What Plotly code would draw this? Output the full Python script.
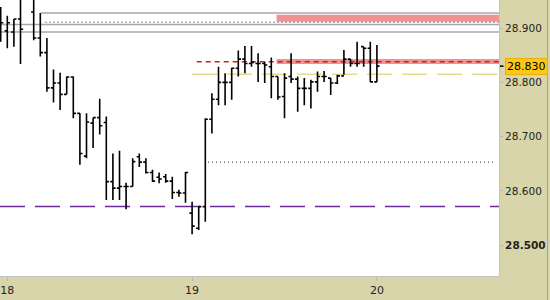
import plotly.graph_objects as go

# ---- data ----
bar_pos = [-1, 0, 1, 2, 4, 5, 6, 7, 8, 9, 10, 11, 12, 13, 14, 15, 16, 17, 18, 19,
           20, 21, 22, 23, 24, 25, 26, 27, 28, 29, 30, 31, 32, 33, 34, 35, 36, 37, 38, 39,
           40, 41, 42, 43, 44, 45, 46, 47, 48, 49, 50, 51, 52, 53, 54, 55, 56]
opens = [28.905, 28.895, 28.893, 28.917, 28.930, 28.882, 28.855, 28.790, 28.799, 28.778,
         28.810, 28.743, 28.664, 28.725, 28.735, 28.726, 28.617, 28.605, 28.608, 28.608,
         28.663, 28.653, 28.634, 28.625, 28.626, 28.618, 28.597, 28.596, 28.559, 28.531,
         28.571, 28.732, 28.769, 28.800, 28.800, 28.826, 28.843, 28.835, 28.835, 28.835,
         28.829, 28.811, 28.774, 28.811, 28.806, 28.789, 28.789, 28.801, 28.811, 28.808,
         28.799, 28.812, 28.843, 28.835, 28.866, 28.863, 28.801]
highs = [28.939, 28.923, 28.917, 28.970, 28.960, 28.928, 28.882, 28.824, 28.818, 28.811,
         28.811, 28.743, 28.743, 28.735, 28.770, 28.737, 28.669, 28.674, 28.615, 28.660,
         28.669, 28.660, 28.639, 28.634, 28.631, 28.626, 28.602, 28.635, 28.580, 28.571,
         28.734, 28.780, 28.829, 28.817, 28.827, 28.859, 28.867, 28.867, 28.854, 28.838,
         28.846, 28.811, 28.817, 28.854, 28.811, 28.808, 28.805, 28.820, 28.821, 28.808,
         28.814, 28.860, 28.843, 28.875, 28.866, 28.875, 28.869]
lows = [28.875, 28.863, 28.866, 28.834, 28.878, 28.848, 28.783, 28.763, 28.749, 28.778,
        28.734, 28.648, 28.660, 28.679, 28.704, 28.583, 28.583, 28.583, 28.566, 28.608,
        28.644, 28.632, 28.617, 28.614, 28.615, 28.585, 28.589, 28.578, 28.520, 28.528,
        28.543, 28.706, 28.758, 28.758, 28.768, 28.811, 28.817, 28.829, 28.801, 28.799,
        28.771, 28.768, 28.734, 28.799, 28.746, 28.758, 28.752, 28.783, 28.801, 28.777,
        28.797, 28.814, 28.829, 28.829, 28.829, 28.801, 28.801]
closes = [28.910, 28.910, 28.917, 28.898, 28.882, 28.855, 28.790, 28.799, 28.778, 28.810,
          28.743, 28.669, 28.727, 28.735, 28.720, 28.617, 28.605, 28.608, 28.608, 28.654,
          28.653, 28.634, 28.618, 28.622, 28.618, 28.597, 28.596, 28.634, 28.535, 28.571,
          28.732, 28.769, 28.800, 28.800, 28.826, 28.843, 28.835, 28.837, 28.835, 28.832,
          28.811, 28.773, 28.808, 28.806, 28.789, 28.789, 28.801, 28.811, 28.811, 28.799,
          28.812, 28.843, 28.835, 28.835, 28.863, 28.801, 28.830]

day_tick_pos = [0, 28, 56]
day_tick_text = ["18", "19", "20"]
price_ticks = [28.5, 28.6, 28.7, 28.8, 28.9]
price_tick_text = ["<b>28.500</b>", "28.600", "28.700", "28.800", "28.900"]
last_price = 28.830

# reference levels: (price, start bar position)
gray_levels = [(28.928, 5.1), (28.907, -1.2), (28.893, -1.2)]
dotted_upper = (28.911, 5.8)
dotted_lower = (28.653, 30.4)
red_bands = [(28.912, 28.925, 40.8), (28.834, 28.843, 40.8)]
red_dash = (28.838, 28.7)
yellow_dash = (28.815, 28.0)
purple_dash = 28.571

x_lo, x_hi = -1.106, 74.5
y_lo, y_hi = 28.443, 28.952

BG = "#d8d5aa"

fig = go.Figure()
fig.add_trace(go.Ohlc(
    x=bar_pos, open=opens, high=highs, low=lows, close=closes,
    increasing=dict(line=dict(color="black", width=1.6)),
    decreasing=dict(line=dict(color="black", width=1.6)),
    tickwidth=0.4, hoverinfo="skip", showlegend=False,
))

shapes = []
for y0, y1, xs in red_bands:
    shapes.append(dict(type="rect", xref="x", yref="y", x0=xs, x1=x_hi, y0=y0, y1=y1,
                       fillcolor="#f08080", opacity=0.85, line=dict(width=0), layer="below"))
for lv, xs in gray_levels:
    shapes.append(dict(type="line", xref="x", yref="y", x0=xs, x1=x_hi, y0=lv, y1=lv,
                       line=dict(color="#a8a8a8", width=1.5), layer="below"))
shapes.append(dict(type="line", xref="x", yref="y", x0=dotted_upper[1], x1=x_hi,
                   y0=dotted_upper[0], y1=dotted_upper[0],
                   line=dict(color="#222222", width=1, dash="1px,3px"), layer="below"))
shapes.append(dict(type="line", xref="x", yref="y", x0=dotted_lower[1], x1=x_hi - 0.6,
                   y0=dotted_lower[0], y1=dotted_lower[0],
                   line=dict(color="#222222", width=1, dash="1px,3px"), layer="below"))
shapes.append(dict(type="line", xref="x", yref="y", x0=yellow_dash[1], x1=x_hi,
                   y0=yellow_dash[0], y1=yellow_dash[0],
                   line=dict(color="#e9d98a", width=1.5, dash="25px,10px"), layer="below"))
shapes.append(dict(type="line", xref="x", yref="y", x0=red_dash[1], x1=x_hi,
                   y0=red_dash[0], y1=red_dash[0],
                   line=dict(color="#cc2020", width=1.5, dash="5px,4px"), layer="below"))
shapes.append(dict(type="line", xref="x", yref="y", x0=x_lo, x1=x_hi,
                   y0=purple_dash, y1=purple_dash,
                   line=dict(color="#6a2a9a", width=1.5, dash="25px,10px"), layer="below"))
# last-price tick mark on axis
shapes.append(dict(type="line", xref="paper", yref="y", x0=1.002, x1=1.009,
                   y0=last_price, y1=last_price, line=dict(color="black", width=1.5)))
# right window edge
shapes.append(dict(type="line", xref="paper", yref="paper", x0=1.0972, x1=1.0972,
                   y0=-0.087, y1=1.0, line=dict(color="#a9a78c", width=1)))

fig.update_layout(
    width=550, height=300,
    margin=dict(l=0, r=51, t=0, b=24),
    paper_bgcolor=BG, plot_bgcolor="white",
    shapes=shapes,
    font=dict(family="DejaVu Sans", size=11, color="#222222"),
    xaxis=dict(range=[x_lo, x_hi], tickvals=day_tick_pos, ticktext=day_tick_text,
               showgrid=False, zeroline=False, ticks="outside", ticklen=4,
               tickcolor="#b8b8b8", showline=True, linecolor="#c4c4c4", linewidth=1,
               rangeslider=dict(visible=False), fixedrange=True),
    yaxis=dict(range=[y_lo, y_hi], side="right", tickvals=price_ticks,
               ticktext=price_tick_text, showgrid=False, zeroline=False,
               ticks="outside", ticklen=3, tickcolor="#b8b8b8", showline=True,
               linecolor="#c4c4c4", linewidth=1, fixedrange=True,
               tickfont=dict(family="DejaVu Sans", size=10.5, color="#222222")),
    annotations=[dict(xref="paper", yref="y", x=1, y=last_price, xanchor="left",
                      yanchor="middle", xshift=6, text=f"{last_price:.3f}",
                      showarrow=False, bgcolor="#ffc61a", bordercolor="#e6b400",
                      borderwidth=1, borderpad=1,
                      font=dict(family="DejaVu Sans", size=11, color="black"))],
)

fig.write_html("out.html")
